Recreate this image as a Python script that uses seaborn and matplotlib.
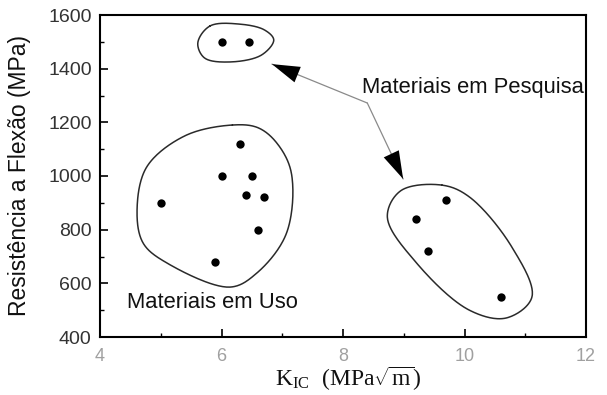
import numpy as np
import pandas as pd
import matplotlib
matplotlib.use("Agg")
import matplotlib.pyplot as plt
import seaborn as sns

# Tenacidade à fratura (MPa·√m) e resistência à flexão (MPa)
uso_kic = [6.3, 6.0, 6.5, 6.4, 6.7, 5.0, 6.6, 5.9]
uso_flexao = [1120, 1000, 1000, 930, 920, 900, 800, 680]
pesq_kic = [6.0, 6.45, 9.7, 9.2, 9.4, 10.6]
pesq_flexao = [1500, 1500, 910, 840, 720, 550]

x_ticks = [4, 6, 8, 10, 12]
y_ticks = [400, 600, 800, 1000, 1200, 1400, 1600]

# Contornos desenhados à mão em volta de cada grupo
contorno_uso = [(6.18, 1190), (6.60, 1180), (6.91, 1123), (7.15, 1011), (7.07, 787),
                (6.58, 638), (6.14, 586), (5.10, 676), (4.71, 750), (4.61, 873),
                (4.77, 1034), (5.40, 1150)]
contorno_topo = [(5.81, 1559), (6.30, 1566), (6.71, 1544), (6.86, 1507),
                 (6.66, 1451), (6.14, 1425), (5.72, 1440), (5.61, 1496)]
contorno_pesq = [(9.63, 966), (10.08, 922), (10.78, 735), (11.11, 549),
                 (10.69, 471), (10.08, 500), (9.21, 676), (8.73, 847), (8.95, 945)]

# escala aproximada (px por unidade) usada só para suavizar os contornos
ESC_X, ESC_Y = 60.9, 0.268


def curva_fechada(pontos, n=30, alpha=0.5):
    """Catmull-Rom centrípeta e periódica através dos vértices do contorno."""
    p = np.asarray(pontos, dtype=float) * [ESC_X, ESC_Y]
    k = len(p)
    out = []
    for i in range(k):
        P0, P1, P2, P3 = p[(i - 1) % k], p[i], p[(i + 1) % k], p[(i + 2) % k]
        t0 = 0.0
        t1 = t0 + np.linalg.norm(P1 - P0) ** alpha
        t2 = t1 + np.linalg.norm(P2 - P1) ** alpha
        t3 = t2 + np.linalg.norm(P3 - P2) ** alpha
        t = np.linspace(t1, t2, n, endpoint=False)[:, None]
        A1 = (t1 - t) / (t1 - t0) * P0 + (t - t0) / (t1 - t0) * P1
        A2 = (t2 - t) / (t2 - t1) * P1 + (t - t1) / (t2 - t1) * P2
        A3 = (t3 - t) / (t3 - t2) * P2 + (t - t2) / (t3 - t2) * P3
        B1 = (t2 - t) / (t2 - t0) * A1 + (t - t0) / (t2 - t0) * A2
        B2 = (t3 - t) / (t3 - t1) * A2 + (t - t1) / (t3 - t1) * A3
        C = (t2 - t) / (t2 - t1) * B1 + (t - t1) / (t2 - t1) * B2
        out.append(C)
    out = np.vstack(out + [out[0][:1]]) / [ESC_X, ESC_Y]
    return out[:, 0], out[:, 1]


sns.set_style("ticks")
plt.rcParams["font.family"] = ["Liberation Sans", "DejaVu Sans"]
plt.rcParams["mathtext.fontset"] = "custom"
plt.rcParams["mathtext.rm"] = "Liberation Serif"
plt.rcParams["mathtext.it"] = "Liberation Serif:italic"

fig, ax = plt.subplots(figsize=(6.07, 3.95), dpi=100)
fig.subplots_adjust(left=100 / 607, right=586 / 607, top=1 - 15 / 395, bottom=1 - 337 / 395)

df = pd.DataFrame({
    "kic": uso_kic + pesq_kic,
    "flexao": uso_flexao + pesq_flexao,
})
sns.scatterplot(data=df, x="kic", y="flexao", ax=ax, color="black", s=36,
                edgecolor="black", linewidth=0, zorder=3)

for contorno in (contorno_uso, contorno_topo, contorno_pesq):
    cx, cy = curva_fechada(contorno)
    ax.plot(cx, cy, color="#2a2a2a", lw=1.1, zorder=2)

# Setas ligando os dois grupos em pesquisa
dobra = (8.40, 1272)
pontas = [(6.83, 1417), (8.99, 989)]
for ponta in pontas:
    ax.plot([dobra[0], ponta[0]], [dobra[1], ponta[1]], color="#8a8a8a", lw=0.9, zorder=2)
    ax.annotate("", xy=ponta, xytext=dobra,
                arrowprops=dict(arrowstyle="-|>,head_length=1.0,head_width=0.3",
                                mutation_scale=20, color="black", lw=0,
                                shrinkA=0, shrinkB=0), zorder=4)

ax.text(8.32, 1328, "Materiais em Pesquisa", fontsize=15.8, color="#111111",
        ha="left", va="center")
ax.text(4.44, 530, "Materiais em Uso", fontsize=15.8, color="#111111",
        ha="left", va="center")

ax.set_xlim(4, 12)
ax.set_ylim(400, 1600)
ax.set_xticks(x_ticks)
ax.set_yticks(y_ticks)
ax.set_xticks([5, 7, 9, 11], minor=True)
ax.set_yticks([500, 700, 900, 1100, 1300, 1500], minor=True)
ax.tick_params(axis="both", which="major", direction="in", length=6, width=1.2, color="black")
ax.tick_params(axis="both", which="minor", direction="in", length=3, width=1.0, color="black")
ax.tick_params(axis="y", labelsize=14, labelcolor="#333333", pad=6)
ax.tick_params(axis="x", labelsize=13, labelcolor="#a0a0a0", pad=8)

for lado in ax.spines.values():
    lado.set_visible(True)
    lado.set_linewidth(1.5)
    lado.set_color("black")

ax.set_ylabel("Resistência a Flexão (MPa)", fontsize=16.5, color="#111111")
ax.yaxis.set_label_coords(-0.165, 0.5)
ax.yaxis.label.set_va("center")
ax.set_xlabel(r"K$_{\rm IC}$  (MPa$\sqrt{\rm m}$)", fontsize=17, color="#111111",
              family=["Liberation Serif", "DejaVu Serif"])
ax.xaxis.set_label_coords(0.51, -0.13)
ax.xaxis.label.set_va("center")

fig.savefig("out.png", dpi=100)
